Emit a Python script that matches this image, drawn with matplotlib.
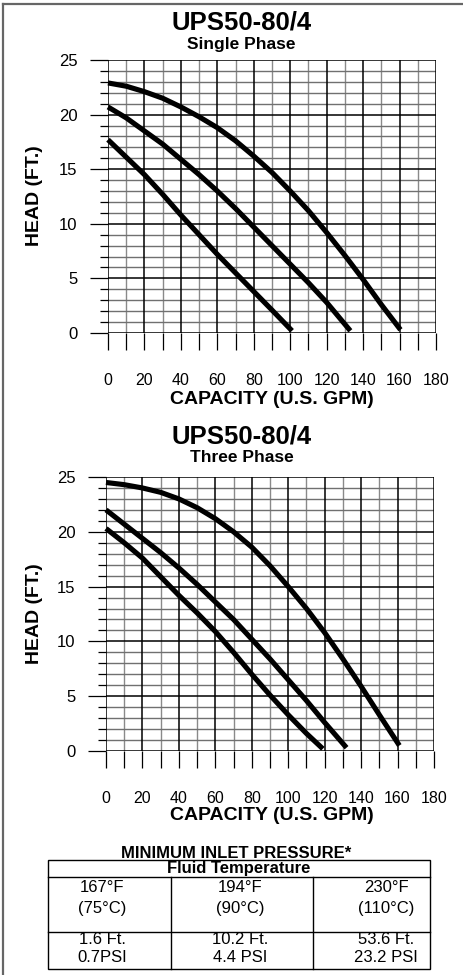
import matplotlib
matplotlib.use("Agg")
import matplotlib.pyplot as plt
from matplotlib.lines import Line2D
from matplotlib.patches import Rectangle

plt.rcParams['font.family'] = ['Liberation Sans', 'DejaVu Sans']

W, H = 464, 975

# ---------------- dados ----------------
# Single Phase
sp_gpm_1 = [0, 10, 20, 30, 40, 50, 60, 70, 80, 90, 100, 110, 120, 130, 140, 150, 160.5]
sp_head_1 = [22.9, 22.6, 22.1, 21.5, 20.7, 19.8, 18.8, 17.6, 16.2, 14.7, 13.0, 11.2, 9.2, 7.1, 4.9, 2.6, 0.3]
sp_gpm_2 = [0, 10, 20, 30, 40, 50, 60, 70, 80, 90, 100, 110, 120, 133]
sp_head_2 = [20.7, 19.7, 18.5, 17.3, 15.9, 14.5, 13.0, 11.4, 9.7, 8.0, 6.3, 4.6, 2.8, 0.2]
sp_gpm_3 = [0, 10, 20, 30, 40, 50, 60, 70, 80, 90, 101]
sp_head_3 = [17.7, 16.1, 14.5, 12.7, 10.8, 9.0, 7.2, 5.5, 3.8, 2.1, 0.2]

# Three Phase
tp_gpm_1 = [0, 10, 20, 30, 40, 50, 60, 70, 80, 90, 100, 110, 120, 130, 140, 150, 161]
tp_head_1 = [24.5, 24.3, 24.0, 23.6, 23.0, 22.2, 21.2, 20.0, 18.6, 16.9, 15.0, 13.0, 10.8, 8.4, 5.9, 3.3, 0.5]
tp_gpm_2 = [0, 10, 20, 30, 40, 50, 60, 70, 80, 90, 100, 110, 120, 132]
tp_head_2 = [22.0, 20.7, 19.4, 18.1, 16.7, 15.2, 13.6, 12.0, 10.2, 8.4, 6.5, 4.6, 2.6, 0.3]
tp_gpm_3 = [0, 10, 20, 30, 40, 50, 60, 70, 80, 90, 100, 110, 119]
tp_head_3 = [20.3, 19.0, 17.6, 15.9, 14.2, 12.6, 10.9, 9.0, 7.0, 5.1, 3.3, 1.6, 0.2]

x_ticks = [0, 20, 40, 60, 80, 100, 120, 140, 160, 180]
y_ticks = [0, 5, 10, 15, 20, 25]

titulo = "UPS50-80/4"
subtitulos = ["Single Phase", "Three Phase"]

tabela_titulo = "MINIMUM INLET PRESSURE*"
tabela_header = "Fluid Temperature"
temp_f = ["167°F", "194°F", "230°F"]
temp_c = ["(75°C)", "(90°C)", "(110°C)"]
press_ft = ["1.6 Ft.", "10.2 Ft.", "53.6 Ft."]
press_psi = ["0.7PSI", "4.4 PSI", "23.2 PSI"]


def fx(px):
    return px / W


def fy(py):
    return 1 - py / H


def config_eixo(ax):
    ax.set_xlim(0, 180)
    ax.set_ylim(0, 25)
    for s in ax.spines.values():
        s.set_visible(False)
    # grade
    for g in range(0, 181, 10):
        if g % 20 == 0:
            ax.axvline(g, color='black', lw=1.1, zorder=1)
        else:
            ax.axvline(g, color='#8a8a8a', lw=1.0, zorder=0.5)
    for h in range(0, 26):
        if h % 5 == 0:
            ax.axhline(h, color='black', lw=1.1, zorder=1)
        else:
            ax.axhline(h, color='#707070', lw=1.0, zorder=0.5)
    ax.set_xticks(x_ticks)
    ax.set_xticks(range(10, 180, 20), minor=True)
    ax.set_yticks(y_ticks)
    ax.set_yticks(range(0, 26), minor=True)
    ax.tick_params(axis='x', which='both', length=12.5, width=0.9, direction='out',
                   labelsize=11.5, pad=16)
    ax.tick_params(axis='y', which='major', length=13, width=0.9, labelsize=12, pad=9)
    ax.tick_params(axis='y', which='minor', length=6, width=0.9)


def desenhar(ax, curvas):
    for gpm, head in curvas:
        ax.plot(gpm, head, color='black', lw=3.7, solid_capstyle='butt',
                solid_joinstyle='round', zorder=3, clip_on=False)


fig = plt.figure(figsize=(W / 100, H / 100), dpi=100)

# moldura
fig.add_artist(Line2D([fx(3.5), fx(3.5)], [0, fy(4)], color='#666666', lw=1.6))
fig.add_artist(Line2D([fx(3.5), 1], [fy(4), fy(4)], color='#666666', lw=1.6))

# grafico 1
ax1 = fig.add_axes([fx(108), fy(333), (436 - 108) / W, (333 - 60) / H])
config_eixo(ax1)
desenhar(ax1, [(sp_gpm_1, sp_head_1), (sp_gpm_2, sp_head_2), (sp_gpm_3, sp_head_3)])

# grafico 2
ax2 = fig.add_axes([fx(106), fy(751), (434 - 106) / W, (751 - 477) / H])
config_eixo(ax2)
desenhar(ax2, [(tp_gpm_1, tp_head_1), (tp_gpm_2, tp_head_2), (tp_gpm_3, tp_head_3)])

# titulos e rotulos
for ty, sy, xly, yly, sub in [(23, 45, 400, 196, subtitulos[0]), (437, 457, 815, 614, subtitulos[1])]:
    fig.text(fx(241.5), fy(ty), titulo, ha='center', va='center', fontsize=18.5,
             fontweight='bold')
    fig.text(fx(241.5), fy(sy), sub, ha='center', va='center', fontsize=12.5,
             fontweight='bold')
    fig.text(fx(272), fy(xly), "CAPACITY (U.S. GPM)", ha='center', va='center',
             fontsize=14, fontweight='bold')
    fig.text(fx(35), fy(yly), "HEAD (FT.)", ha='center', va='center', rotation=90,
             fontsize=14, fontweight='bold')

# tabela
fig.text(fx(236), fy(853), tabela_titulo, ha='center', va='center', fontsize=12,
         fontweight='bold')
fig.add_artist(Rectangle((fx(48), fy(969)), fx(430) - fx(48), fy(860) - fy(969),
                         fill=False, edgecolor='black', lw=1.0))
fig.add_artist(Line2D([fx(48), fx(430)], [fy(877), fy(877)], color='black', lw=1.0))
fig.add_artist(Line2D([fx(48), fx(430)], [fy(932), fy(932)], color='black', lw=1.0))
for cx in [171, 313]:
    fig.add_artist(Line2D([fx(cx), fx(cx)], [fy(877), fy(969)], color='black', lw=1.0))
fig.text(fx(239), fy(868), tabela_header, ha='center', va='center', fontsize=12,
         fontweight='bold')
col_x = [102, 240, 386]
for linha, yy in [(temp_f, 887), (temp_c, 908), (press_ft, 939), (press_psi, 958)]:
    for txt, cx in zip(linha, col_x):
        fig.text(fx(cx), fy(yy), txt, ha='center', va='center', fontsize=12)

fig.savefig('out.png', dpi=100)
